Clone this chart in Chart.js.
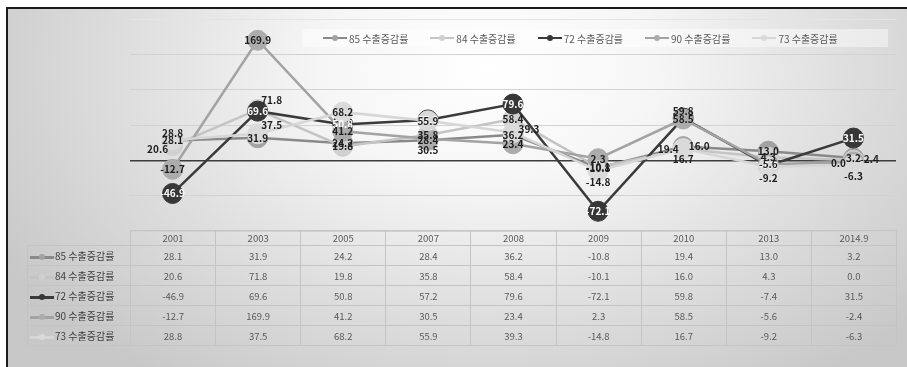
<!DOCTYPE html>
<html>
<head>
<meta charset="utf-8">
<script src="https://cdn.jsdelivr.net/npm/chart.js@4.4.0/dist/chart.umd.min.js"></script>
<style>
  body { margin:0; width:907px; height:367px; background:#fff; overflow:hidden; font-family:"Noto Sans CJK KR", sans-serif; }
  #frame { position:absolute; left:6px; top:7px; width:901px; height:360px;
    border-top:2px solid #1a1a1a; border-left:2px solid #1a1a1a; box-sizing:border-box;
    background: radial-gradient(ellipse 560px 380px at 480px 60px, #ffffff 0%, #f6f6f6 30%, #e0e0e0 62%, #c8c8c8 100%); }
  #chart { position:absolute; left:0; top:0; }
  #legend { position:absolute; left:302px; top:29px; width:586px; height:18px; background:rgba(255,255,255,0.45);
    display:flex; align-items:center; padding-left:21px; box-sizing:border-box; font-size:10px; color:#595959; }
  #legend .item { display:flex; align-items:center; margin-right:22px; white-space:nowrap; }
  .key { display:inline-block; position:relative; width:24px; height:2.5px; margin-right:2px; }
  .key i { position:absolute; left:9px; top:-2px; width:6px; height:6px; border-radius:50%; }
  #tbl { position:absolute; left:27px; top:230px; border-collapse:collapse; table-layout:fixed;
    font-size:9.5px; color:#595959; }
  #tbl td { border:1px solid #c4c4c4; text-align:center; padding:0; height:19px; }
  #tbl tr.head td { height:14px; }
  #tbl tr.head td.blank { border:none; border-bottom:1px solid #c4c4c4; }
  #tbl td.name { text-align:left; font-size:10px; color:#404040; padding-left:2px; white-space:nowrap; }
  #tbl td.name .key { margin-right:1px; vertical-align:middle; }
</style>
</head>
<body>
<div id="frame"></div>
<canvas id="chart" width="907" height="367"></canvas>
<div id="legend"></div>
<table id="tbl"></table>
<script>
const years = ['2001', '2003', '2005', '2007', '2008', '2009', '2010', '2013', '2014.9'];
const seriesNames = ['85 수출증감률', '84 수출증감률', '72 수출증감률', '90 수출증감률', '73 수출증감률'];
const s85 = [28.1, 31.9, 24.2, 28.4, 36.2, -10.8, 19.4, 13.0, 3.2];
const s84 = [20.6, 71.8, 19.8, 35.8, 58.4, -10.1, 16.0, 4.3, 0.0];
const s72 = [-46.9, 69.6, 50.8, 57.2, 79.6, -72.1, 59.8, -7.4, 31.5];
const s90 = [-12.7, 169.9, 41.2, 30.5, 23.4, 2.3, 58.5, -5.6, -2.4];
const s73 = [28.8, 37.5, 68.2, 55.9, 39.3, -14.8, 16.7, -9.2, -6.3];
const seriesValues = [s85, s84, s72, s90, s73];

// grey tones per series: line, marker, label text
const lineColors  = ['#898989', '#c4c4c4', '#3a3a3a', '#a3a3a3', '#d6d6d6'];
const pointColors = ['#a2a2a2', '#d0d0d0', '#373737', '#acacac', '#dadada'];
const textColors  = ['#1e1e1e', '#1e1e1e', '#ffffff', '#1e1e1e', '#1e1e1e'];

// where each value label sits relative to its point (c, l, r, t, b, tr)
const labelSpots = [
  ['c', 'c', 'c', 'c', 'c', 'c', 'l', 'c', 'c'],
  ['l', 'tr', 'c', 'c', 'c', 'c', 'r', 'c', 'l'],
  ['c', 'c', 'c', 'c', 'c', 'c', 't', 'c', 'c'],
  ['c', 'c', 'c', 'b', 'c', 'c', 'c', 'c', 'r'],
  ['t', 'tr', 'c', 'c', 'r', 'b', 'b', 'b', 'b']
];
const spotShift = {
  c: [0, 0], l: [-15, 3], r: [16, -3], t: [0, -7], b: [0, 11], tr: [14, -9]
};

const chartEl = document.getElementById('chart');

// value labels on top of all lines
const valueLabels = {
  id: 'valueLabels',
  afterDatasetsDraw(chart) {
    const ctx = chart.ctx;
    ctx.save();
    ctx.font = 'bold 10px "Noto Sans CJK KR"';
    ctx.textAlign = 'center';
    ctx.textBaseline = 'middle';
    chart.data.datasets.forEach((ds, i) => {
      const meta = chart.getDatasetMeta(i);
      meta.data.forEach((pt, j) => {
        const spot = labelSpots[i][j];
        const d = spotShift[spot];
        // labels pushed off a dark marker are drawn dark
        ctx.fillStyle = spot === 'c' ? textColors[i] : '#1e1e1e';
        ctx.fillText(ds.data[j].toFixed(1), pt.x + d[0], pt.y + d[1]);
      });
    });
    ctx.restore();
  }
};

const chart = new Chart(chartEl, {
  type: 'line',
  data: {
    labels: years,
    datasets: seriesNames.map((name, i) => ({
      label: name,
      data: seriesValues[i],
      borderColor: lineColors[i],
      backgroundColor: pointColors[i],
      pointBackgroundColor: pointColors[i],
      pointBorderColor: pointColors[i],
      pointRadius: 10,
      pointBorderWidth: 1,
      borderWidth: 2.5,
      tension: 0,
      clip: false,
      order: 5 - i
    }))
  },
  options: {
    responsive: false,
    animation: false,
    devicePixelRatio: 1,
    layout: { padding: { left: 130, right: 4, top: 19, bottom: 136 } },
    plugins: {
      legend: { display: false },
      tooltip: { enabled: false }
    },
    scales: {
      x: { display: false, offset: true },
      y: {
        min: -100,
        max: 200,
        ticks: { display: false, stepSize: 50 },
        border: { display: false },
        grid: {
          drawTicks: false,
          color: ctx => ctx.tick.value === 0 ? '#3c3c3c' : (ctx.tick.value === 200 ? '#e4e4e4' : '#d2d2d2'),
          lineWidth: ctx => ctx.tick.value === 0 ? 1.5 : 1
        }
      }
    }
  },
  plugins: [valueLabels]
});

function keyHtml(i) {
  return '<span class="key" style="background:' + lineColors[i] + '"><i style="background:' + pointColors[i] + '"></i></span>';
}

// legend
const legendEl = document.getElementById('legend');
legendEl.innerHTML = seriesNames.map((name, i) =>
  '<span class="item">' + keyHtml(i) + name + '</span>').join('');

// data table under the plot, columns follow the x scale
const area = chart.chartArea;
const colW = (area.right - area.left) / years.length;
const tbl = document.getElementById('tbl');
let html = '<colgroup><col style="width:' + (area.left - 27) + 'px">';
years.forEach(() => { html += '<col style="width:' + colW + 'px">'; });
html += '</colgroup><tr class="head"><td class="blank"></td>';
years.forEach(y => { html += '<td>' + y + '</td>'; });
html += '</tr>';
seriesNames.forEach((name, i) => {
  html += '<tr><td class="name">' + keyHtml(i) + name + '</td>';
  seriesValues[i].forEach(v => { html += '<td>' + v.toFixed(1) + '</td>'; });
  html += '</tr>';
});
tbl.innerHTML = html;
tbl.style.width = (area.right - 27) + 'px';
</script>
</body>
</html>
